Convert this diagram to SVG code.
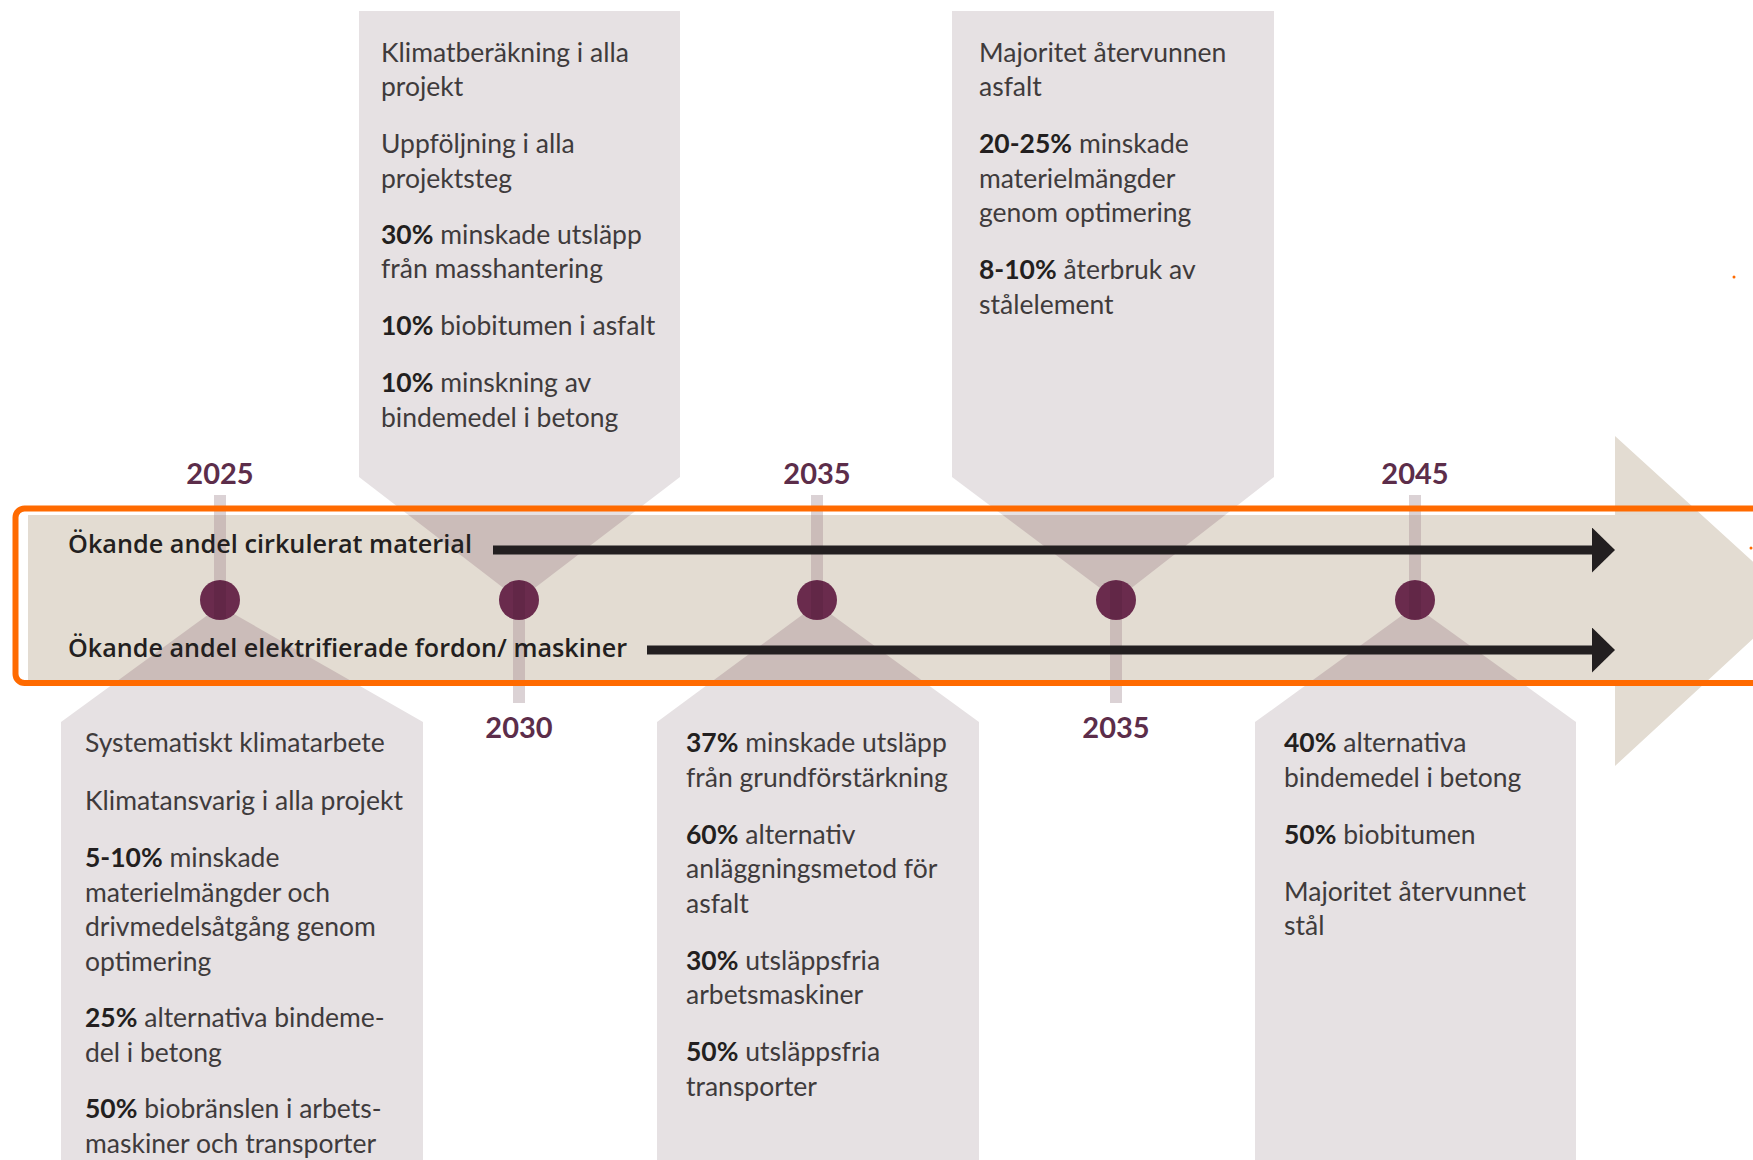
<svg xmlns="http://www.w3.org/2000/svg" width="1753" height="1160" viewBox="0 0 1753 1160">
  <style>
    .box { fill: #e6e1e3; }
    .stem { fill: #dbd2d5; }
    .ovl { fill: #cbbcb9; }
    .band { fill: #e3dcd2; }
    .dot { fill: #6a2b4d; }
    .stripe { fill: #4a1a36; opacity: 0.25; }
    .year { font-family: Lato, "Liberation Sans", sans-serif; font-weight: 700; font-size: 29px; fill: #5c2d4a; text-anchor: middle; }
    .body { font-family: Lato, "Liberation Sans", sans-serif; font-size: 26.5px; fill: #3f3b3c; }
    .body tspan.b { font-weight: 700; fill: #231f20; }
    .lane { font-family: "Open Sans", "Liberation Sans", sans-serif; font-weight: 600; font-size: 25px; fill: #231f20; }
    .flow { fill: none; stroke: #231f20; stroke-width: 9; }
    .frame { fill: none; stroke: #ff6a00; stroke-width: 6; }
  </style>
  <defs>
    <!-- band + big arrowhead outline -->
    <clipPath id="bandClip">
      <polygon points="28,515 1615,515 1615,436 1795,600 1615,766 1615,680 28,680"/>
    </clipPath>
    <marker id="head" markerUnits="userSpaceOnUse" viewBox="0 0 23 45" markerWidth="23" markerHeight="45" refX="8" refY="22.5" orient="auto">
      <path d="M0,0 L23,22.5 L0,45 Z" fill="#231f20"/>
    </marker>
    <!-- milestone shapes, reused for the darker overlap on the band -->
    <polygon id="shapeA" points="359,11 680,11 680,477 519,600 359,477"/>
    <polygon id="shapeB" points="952,11 1274,11 1274,477 1116,600 952,477"/>
    <polygon id="shapeC" points="220,606 423,722 423,1160 61,1160 61,722"/>
    <polygon id="shapeD" points="817,604 979,722 979,1160 657,1160 657,722"/>
    <polygon id="shapeE" points="1415,606 1576,722 1576,1160 1255,1160 1255,722"/>
    <g id="stems">
      <rect x="214" y="495" width="12" height="105"/>
      <rect x="811" y="495" width="12" height="105"/>
      <rect x="1409" y="495" width="12" height="105"/>
      <rect x="513" y="600" width="12" height="103"/>
      <rect x="1110" y="600" width="12" height="103"/>
    </g>
  </defs>

  <rect width="1753" height="1160" fill="#ffffff"/>

  <!-- milestone boxes -->
  <g id="box-2025"><use href="#shapeC" class="box"/></g>
  <g id="box-2030"><use href="#shapeA" class="box"/></g>
  <g id="box-2035-low"><use href="#shapeD" class="box"/></g>
  <g id="box-2035-high"><use href="#shapeB" class="box"/></g>
  <g id="box-2045"><use href="#shapeE" class="box"/></g>
  <use href="#stems" class="stem"/>

  <!-- timeline band with arrowhead -->
  <g id="timeline-band">
    <polygon class="band" points="28,515 1615,515 1615,436 1795,600 1615,766 1615,680 28,680"/>
    <g clip-path="url(#bandClip)" class="ovl">
      <use href="#shapeA"/><use href="#shapeB"/><use href="#shapeC"/><use href="#shapeD"/><use href="#shapeE"/>
      <use href="#stems"/>
    </g>
  </g>

  <!-- flow arrows -->
  <g id="connectors">
    <path class="flow" d="M493,550 H1600" marker-end="url(#head)"/>
    <path class="flow" d="M647,650 H1600" marker-end="url(#head)"/>
  </g>

  <!-- lane labels -->
  <g id="lane-labels">
    <text class="lane" x="68" y="553" textLength="404" lengthAdjust="spacingAndGlyphs">Ökande andel cirkulerat material</text>
    <text class="lane" x="68" y="657" textLength="559" lengthAdjust="spacingAndGlyphs">Ökande andel elektrifierade fordon/ maskiner</text>
  </g>

  <!-- milestone dots and years -->
  <g id="m2025">
    <circle class="dot" cx="220" cy="600" r="20"/><rect class="stripe" x="214" y="581" width="12" height="38"/>
    <text class="year" x="220" y="484">2025</text>
  </g>
  <g id="m2030">
    <circle class="dot" cx="519" cy="600" r="20"/><rect class="stripe" x="513" y="581" width="12" height="38"/>
    <text class="year" x="519" y="738">2030</text>
  </g>
  <g id="m2035a">
    <circle class="dot" cx="817" cy="600" r="20"/><rect class="stripe" x="811" y="581" width="12" height="38"/>
    <text class="year" x="817" y="484">2035</text>
  </g>
  <g id="m2035b">
    <circle class="dot" cx="1116" cy="600" r="20"/><rect class="stripe" x="1110" y="581" width="12" height="38"/>
    <text class="year" x="1116" y="738">2035</text>
  </g>
  <g id="m2045">
    <circle class="dot" cx="1415" cy="600" r="20"/><rect class="stripe" x="1409" y="581" width="12" height="38"/>
    <text class="year" x="1415" y="484">2045</text>
  </g>

  <!-- box texts -->
  <g id="text-2030" class="body">
    <text x="381" y="61.5">Klimatberäkning i alla</text>
    <text x="381" y="96">projekt</text>
    <text x="381" y="153">Uppföljning i alla</text>
    <text x="381" y="187.5">projektsteg</text>
    <text x="381" y="243.5"><tspan class="b">30%</tspan> minskade utsläpp</text>
    <text x="381" y="278">från masshantering</text>
    <text x="381" y="335"><tspan class="b">10%</tspan> biobitumen i asfalt</text>
    <text x="381" y="392"><tspan class="b">10%</tspan> minskning av</text>
    <text x="381" y="426.5">bindemedel i betong</text>
  </g>
  <g id="text-2035-high" class="body">
    <text x="979" y="61.5">Majoritet återvunnen</text>
    <text x="979" y="96">asfalt</text>
    <text x="979" y="153"><tspan class="b">20-25%</tspan> minskade</text>
    <text x="979" y="187.5">materielmängder</text>
    <text x="979" y="222">genom optimering</text>
    <text x="979" y="279"><tspan class="b">8-10%</tspan> återbruk av</text>
    <text x="979" y="313.5">stålelement</text>
  </g>
  <g id="text-2025" class="body">
    <text x="85" y="752">Systematiskt klimatarbete</text>
    <text x="85" y="809.5">Klimatansvarig i alla projekt</text>
    <text x="85" y="867"><tspan class="b">5-10%</tspan> minskade</text>
    <text x="85" y="901.5">materielmängder och</text>
    <text x="85" y="936">drivmedelsåtgång genom</text>
    <text x="85" y="970.5">optimering</text>
    <text x="85" y="1027"><tspan class="b">25%</tspan> alternativa bindeme-</text>
    <text x="85" y="1061.5">del i betong</text>
    <text x="85" y="1118"><tspan class="b">50%</tspan> biobränslen i arbets-</text>
    <text x="85" y="1152.5">maskiner och transporter</text>
  </g>
  <g id="text-2035-low" class="body">
    <text x="686" y="752"><tspan class="b">37%</tspan> minskade utsläpp</text>
    <text x="686" y="786.5">från grundförstärkning</text>
    <text x="686" y="843.5"><tspan class="b">60%</tspan> alternativ</text>
    <text x="686" y="878">anläggningsmetod för</text>
    <text x="686" y="912.5">asfalt</text>
    <text x="686" y="969.5"><tspan class="b">30%</tspan> utsläppsfria</text>
    <text x="686" y="1004">arbetsmaskiner</text>
    <text x="686" y="1061"><tspan class="b">50%</tspan> utsläppsfria</text>
    <text x="686" y="1095.5">transporter</text>
  </g>
  <g id="text-2045" class="body">
    <text x="1284" y="752"><tspan class="b">40%</tspan> alternativa</text>
    <text x="1284" y="786.5">bindemedel i betong</text>
    <text x="1284" y="843.5"><tspan class="b">50%</tspan> biobitumen</text>
    <text x="1284" y="900.5">Majoritet återvunnet</text>
    <text x="1284" y="935">stål</text>
  </g>

  <!-- highlight frame -->
  <rect class="frame" x="15.5" y="508.5" width="1800" height="174.5" rx="9"/>
  <circle cx="1734" cy="277" r="1.5" fill="#ff6a00"/>
  <circle cx="1751" cy="548" r="1.5" fill="#ff6a00"/>
</svg>
